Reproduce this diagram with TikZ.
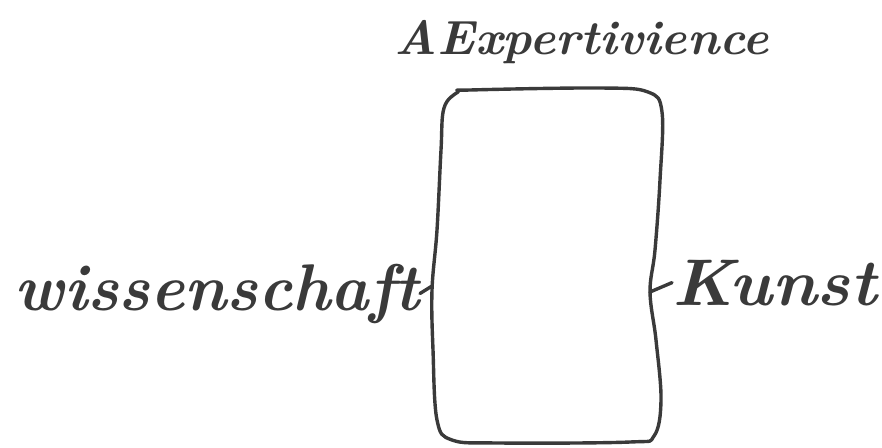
\documentclass[tikz,border=0pt]{standalone}
\usepackage{fontspec}
\definecolor{inkgray}{HTML}{3A3A3A}
\begin{document}
\begin{tikzpicture}[x=1pt, y=-1pt, line join=round, line cap=round]
	\tikzset{
	ink/.style={draw=inkgray, line width=3.4pt},
	word/.style={text=inkgray, inner sep=0pt, font=\fontsize{66}{70}\selectfont\bfseries\itshape},
	}
	\useasboundingbox (0,0) rectangle (882,447);
	\draw[ink] plot[smooth cycle, tension=0.6] coordinates {(470,90) (600,88) (648,92) (662,112) (660,180) (655,250) (650,292) (656,340) (661,400) (654,436) (630,442) (500,443) (452,440) (437,420) (433,350) (432,290) (437,230) (441,150) (444,108) (458,92)};
	\coordinate (boxw) at (432,286);
	\coordinate (boxe) at (650,292);
	\node[word, anchor=base east] (wiss) at (420,310) {\scalebox{0.98}[1]{wissenschaft}};
	\node[word, anchor=base west] (kunst) at (672,305) {\scalebox{1.04}[1]{Kunst}};
	\node[word, font=\fontsize{48}{52}\selectfont\bfseries\itshape, anchor=base] (expert) at (582,54) {\scalebox{1.03}[1]{AExpertivience}};
	\draw[ink] (wiss.east) -- (boxw);
	\draw[ink] (boxe) -- (kunst.west);
\end{tikzpicture}
\end{document}
